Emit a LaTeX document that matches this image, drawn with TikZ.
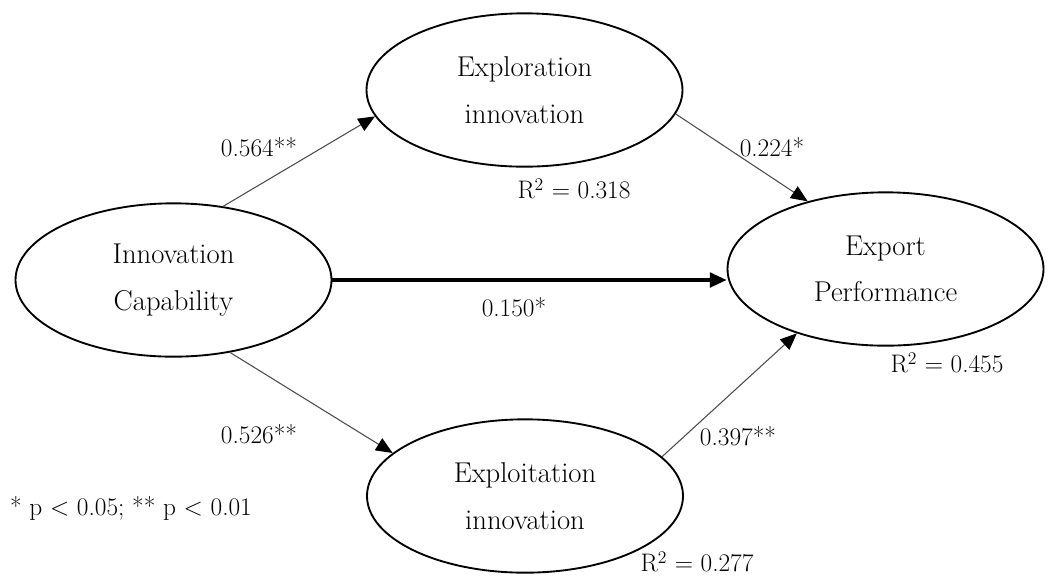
\documentclass[tikz,border=0pt]{standalone}
\usetikzlibrary{shapes.geometric,arrows.meta}
\begin{document}
\begin{tikzpicture}[x=0.75pt,y=-0.75pt,
  latent/.style={draw, ellipse, line width=1.4pt, minimum width=237pt, minimum height=115pt,
    inner sep=0pt, align=center, font=\fontsize{21.5}{35}\selectfont,
    execute at begin node={\rule{0pt}{24pt}}},
  thinpath/.style={draw=black!70, line width=0.8pt, -{Triangle[length=12.5pt,width=10.5pt,color=black]}},
  thickpath/.style={draw=black, line width=2.3pt, -{Triangle[length=12.5pt,width=11pt]}},
  lbl/.style={font=\fontsize{19}{23}\selectfont, inner sep=0pt}]
\useasboundingbox (0,0) rectangle (1053,576);

\node[latent] (ic) at (173.5,280) {Innovation\\Capability};
\node[latent] (ex) at (524.5,90) {Exploration\\innovation};
\node[latent] (ep) at (885.5,269) {Export\\Performance};
\node[latent] (xp) at (525,496) {Exploitation\\innovation};

\draw[thinpath] (ic.56) -- (ex.190);
\draw[thinpath] (ex.351) -- (ep.139);
\draw[thickpath] (ic.east) -- (ic.east -| ep.west);
\draw[thinpath] (ic.308) -- (xp.162);
\draw[thinpath] (xp.16) -- (ep.216);

\node[lbl] (l1) at (259,147) {0.564**};
\node[lbl] (l2) at (772,147) {0.224*};
\node[lbl] (l3) at (514,307) {0.150*};
\node[lbl] (l4) at (259,434) {0.526**};
\node[lbl] (l5) at (738,436) {0.397**};
\node[lbl] (r1) at (574,189) {R\textsuperscript{2} = 0.318};
\node[lbl] (r2) at (947,363) {R\textsuperscript{2} = 0.455};
\node[lbl] (r3) at (697,562) {R\textsuperscript{2} = 0.277};
\node[lbl] (note) at (131,508) {* p < 0.05; ** p < 0.01};
\end{tikzpicture}
\end{document}
